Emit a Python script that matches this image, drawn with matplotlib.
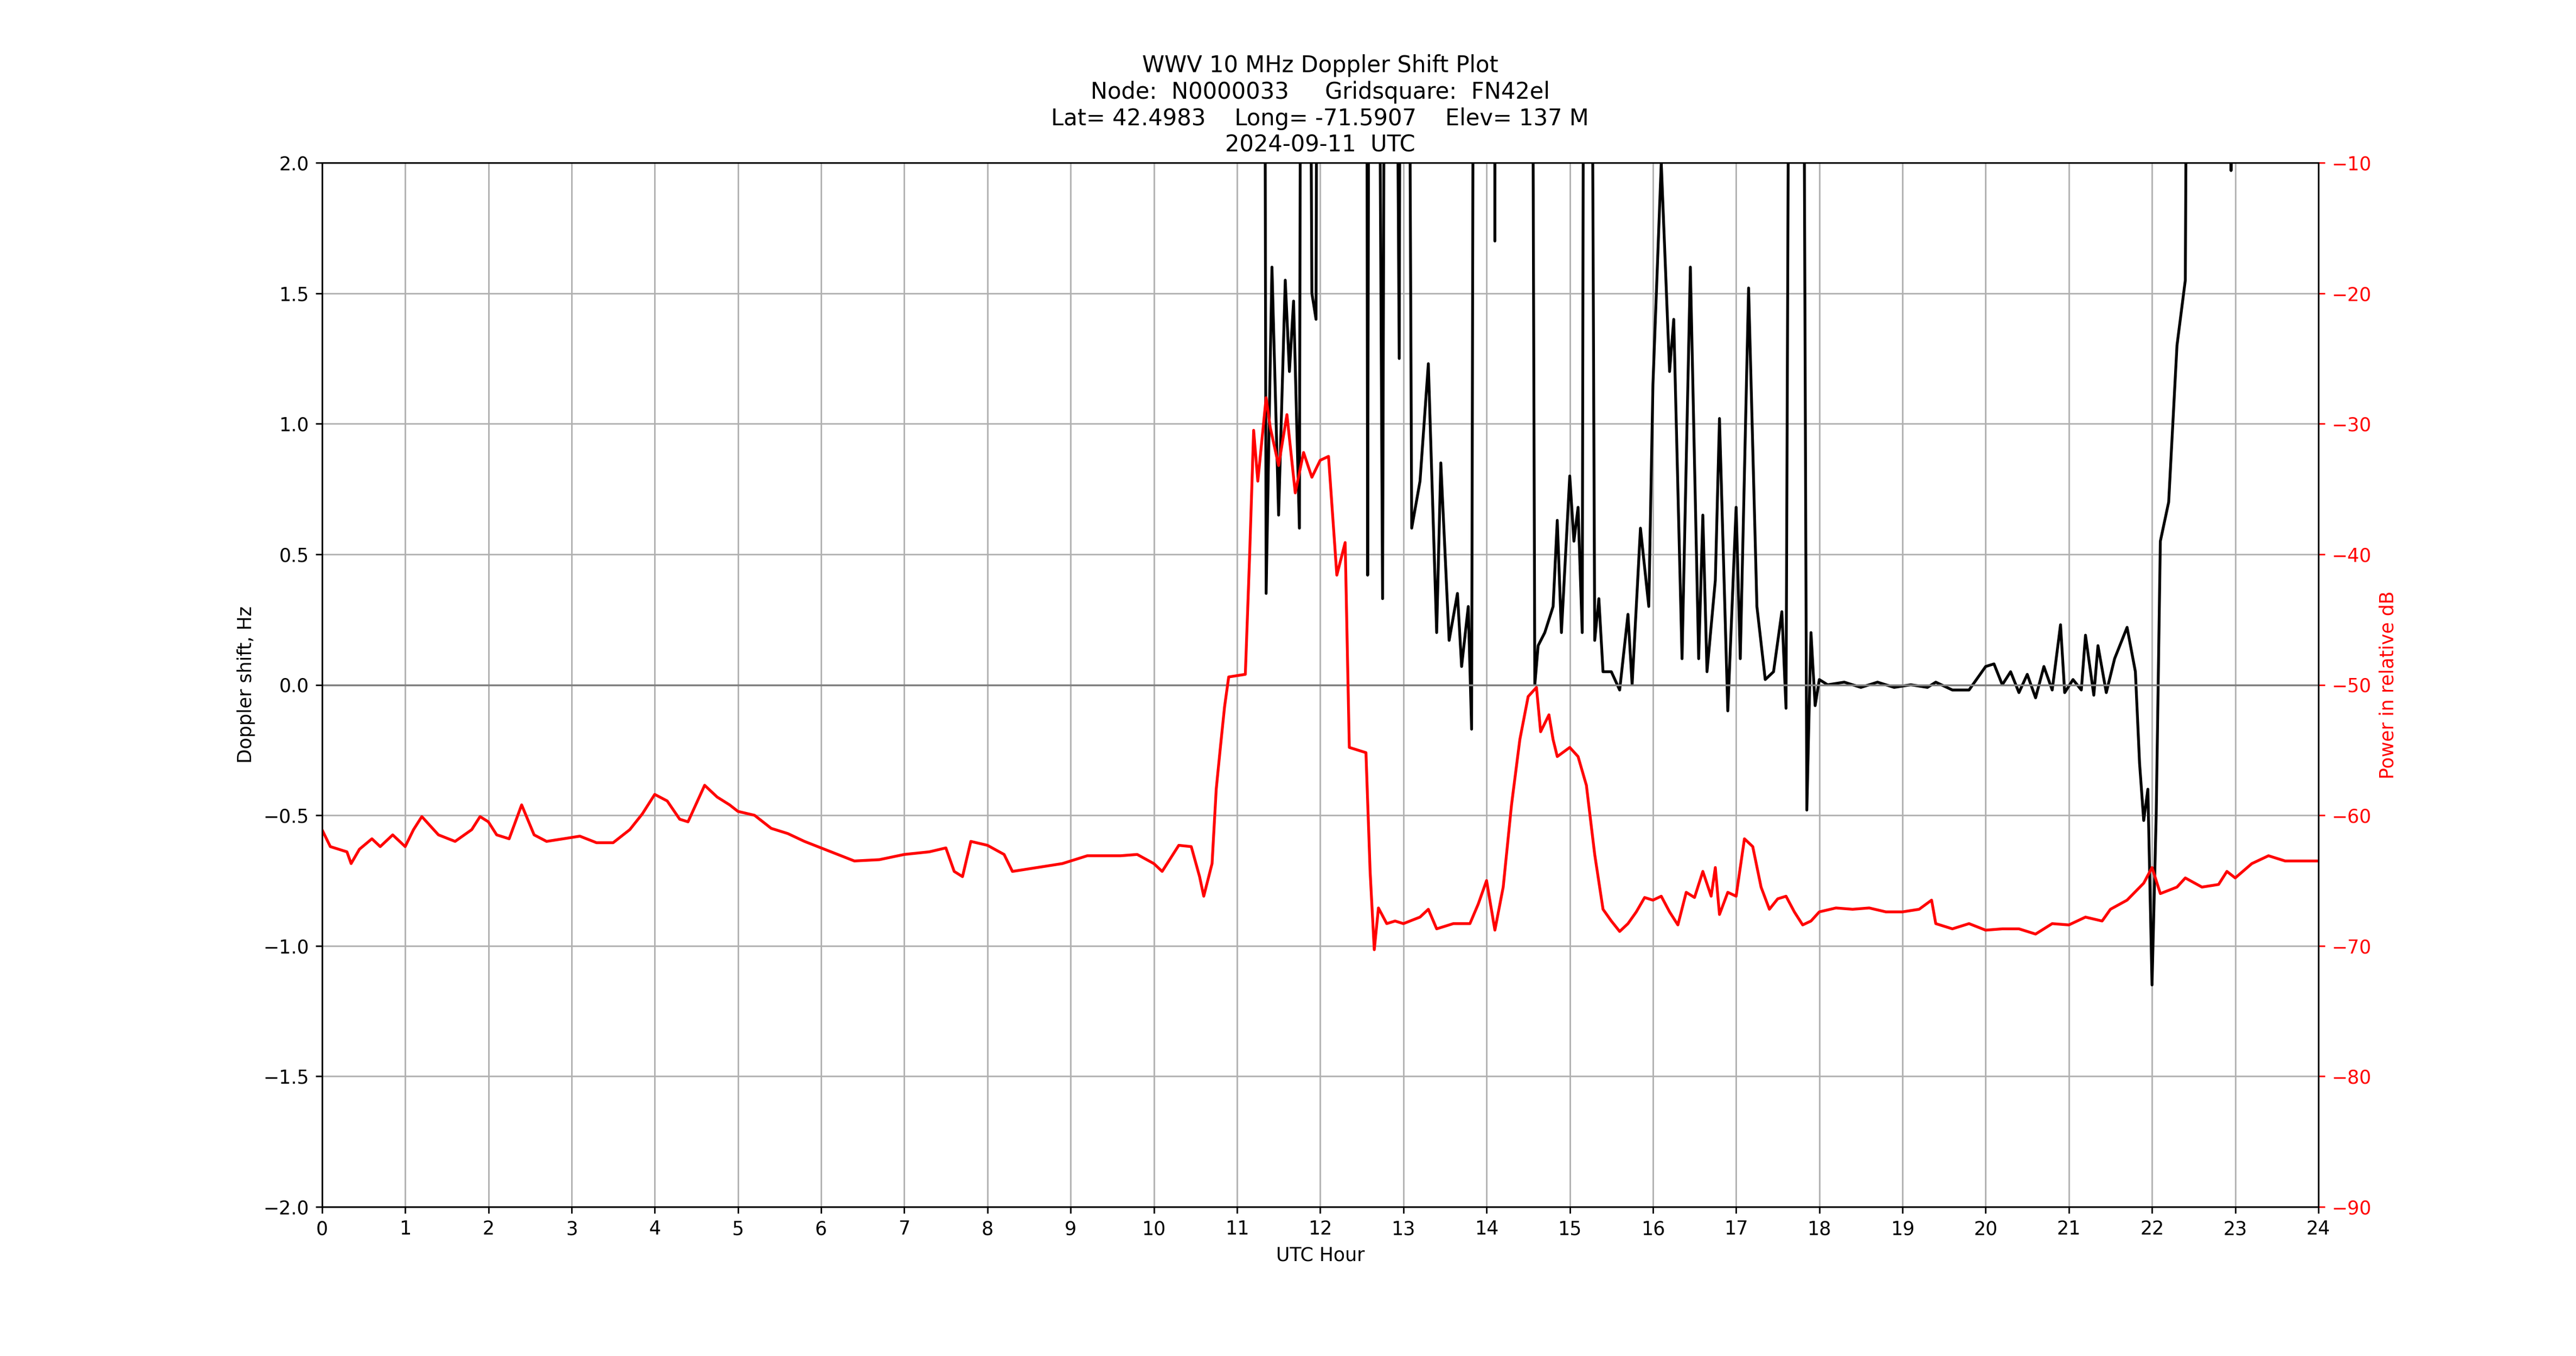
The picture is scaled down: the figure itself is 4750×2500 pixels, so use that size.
import matplotlib
matplotlib.use("Agg")
import matplotlib.pyplot as plt
import numpy as np

pw_hours = [0,0.1,0.3,0.35,0.45,0.6,0.7,0.85,1.0,1.1,1.2,1.4,1.6,1.8,1.9,2.0,2.1,2.25,2.4,2.55,2.7,2.9,3.1,3.3,3.5,3.7,3.85,4.0,4.15,4.3,4.4,4.6,4.75,4.9,5.0,5.2,5.4,5.6,5.8,6.0,6.2,6.4,6.7,7.0,7.3,7.5,7.6,7.7,7.8,8.0,8.2,8.3,8.6,8.9,9.2,9.6,9.8,10.0,10.1,10.2,10.3,10.45,10.55,10.6,10.7,10.75,10.8,10.85,10.9,11.1,11.15,11.2,11.25,11.35,11.4,11.5,11.6,11.7,11.8,11.9,12.0,12.1,12.2,12.3,12.35,12.55,12.6,12.65,12.7,12.8,12.9,13.0,13.2,13.3,13.4,13.6,13.8,13.9,14.0,14.1,14.2,14.3,14.4,14.5,14.6,14.65,14.75,14.8,14.85,15.0,15.1,15.2,15.3,15.4,15.5,15.6,15.7,15.8,15.9,16.0,16.1,16.2,16.3,16.4,16.5,16.6,16.7,16.75,16.8,16.9,17.0,17.1,17.2,17.3,17.4,17.5,17.6,17.7,17.8,17.9,18.0,18.2,18.4,18.6,18.8,19.0,19.2,19.35,19.4,19.6,19.8,20.0,20.2,20.4,20.6,20.8,21.0,21.2,21.4,21.5,21.7,21.9,22.0,22.1,22.3,22.4,22.6,22.8,22.9,23.0,23.2,23.4,23.6,23.8,24.0]
pw_pix = [505,515,518,525,517,510,515,508,515,505,497,508,512,505,497,500,508,510,490,508,512,510,509,513,513,505,495,483,487,498,500,478,485,490,494,496,504,507,512,516,520,524,523,520,518,516,530,533,512,514,520,530,528,525,521,521,520,525,530,522,514,515,533,545,525,480,455,430,412,410,340,262,293,242,260,283,252,300,275,290,280,278,350,330,455,458,530,578,552,562,560,562,558,553,565,562,562,550,536,566,540,490,450,424,418,445,435,450,460,455,460,478,520,553,560,567,562,555,546,548,545,555,563,543,546,530,545,528,556,543,545,510,515,540,553,547,545,555,563,560,555,552,553,552,555,555,553,548,562,565,562,566,565,565,568,562,563,558,560,553,548,537,528,544,540,534,540,538,530,534,525,521,524,524,524]
power_db = [round(-10 - (p - 99) / 7.94, 1) for p in pw_pix]

dop_hours = [11.3,11.35,11.42,11.5,11.58,11.63,11.68,11.75,11.8,11.9,11.95,12.0,12.1,12.54,12.57,12.62,12.75,12.82,12.95,13.0,13.1,13.2,13.3,13.4,13.45,13.55,13.65,13.7,13.78,13.82,13.88,14.08,14.1,14.12,14.5,14.58,14.62,14.7,14.8,14.85,14.9,15.0,15.05,15.1,15.15,15.2,15.3,15.35,15.4,15.5,15.6,15.7,15.75,15.85,15.95,16.0,16.1,16.2,16.25,16.35,16.45,16.55,16.6,16.65,16.75,16.8,16.9,17.0,17.05,17.15,17.25,17.35,17.45,17.55,17.6,17.7,17.75,17.85,17.9,17.95,18.0,18.1,18.3,18.5,18.7,18.9,19.1,19.3,19.4,19.6,19.8,20.0,20.1,20.2,20.3,20.4,20.5,20.6,20.7,20.8,20.9,20.95,21.05,21.15,21.2,21.3,21.35,21.45,21.55,21.7,21.8,21.85,21.9,21.95,22.0,22.05,22.1,22.2,22.3,22.4,22.5,22.9,22.95,23.0,24.0]
doppler_hz = [8,0.35,1.6,0.65,1.55,1.2,1.47,0.6,8,1.5,1.4,8,8,8,0.42,8,0.33,8,1.25,8,0.6,0.78,1.23,0.2,0.85,0.17,0.35,0.07,0.3,-0.17,8,8,1.7,8,8,0.0,0.15,0.2,0.3,0.63,0.2,0.8,0.55,0.68,0.2,8,0.17,0.33,0.05,0.05,-0.02,0.27,0.0,0.6,0.3,1.15,2.0,1.2,1.4,0.1,1.6,0.1,0.65,0.05,0.4,1.02,-0.1,0.68,0.1,1.52,0.3,0.02,0.05,0.28,-0.09,8,8,-0.48,0.2,-0.08,0.02,0.0,0.01,-0.01,0.01,-0.01,0.0,-0.01,0.01,-0.02,-0.02,0.07,0.08,0.0,0.05,-0.03,0.04,-0.05,0.07,-0.02,0.23,-0.03,0.02,-0.02,0.19,-0.04,0.15,-0.03,0.1,0.22,0.05,-0.3,-0.52,-0.4,-1.15,-0.5,0.55,0.7,1.3,1.55,8,8,1.97,8,8]

fig, ax = plt.subplots(figsize=(19, 10), dpi=250)
ax.plot(dop_hours, doppler_hz, color='black', lw=1.5)
ax.axhline(0, color='grey', lw=1)
ax.set_xlim(0, 24)
ax.set_ylim(-2, 2)
ax.set_xticks(range(25))
ax.grid(True)
ax.set_xlabel('UTC Hour')
ax.set_ylabel('Doppler shift, Hz')
ax.set_title('WWV 10 MHz Doppler Shift Plot\nNode:  N0000033     Gridsquare:  FN42el\n'
             'Lat= 42.4983    Long= -71.5907    Elev= 137 M\n2024-09-11  UTC')
ax2 = ax.twinx()
ax2.plot(pw_hours, power_db, color='red', lw=1.5)
ax2.set_ylim(-90, -10)
ax2.set_ylabel('Power in relative dB', color='red')
ax2.tick_params(axis='y', colors='red')
fig.savefig('out.png')
